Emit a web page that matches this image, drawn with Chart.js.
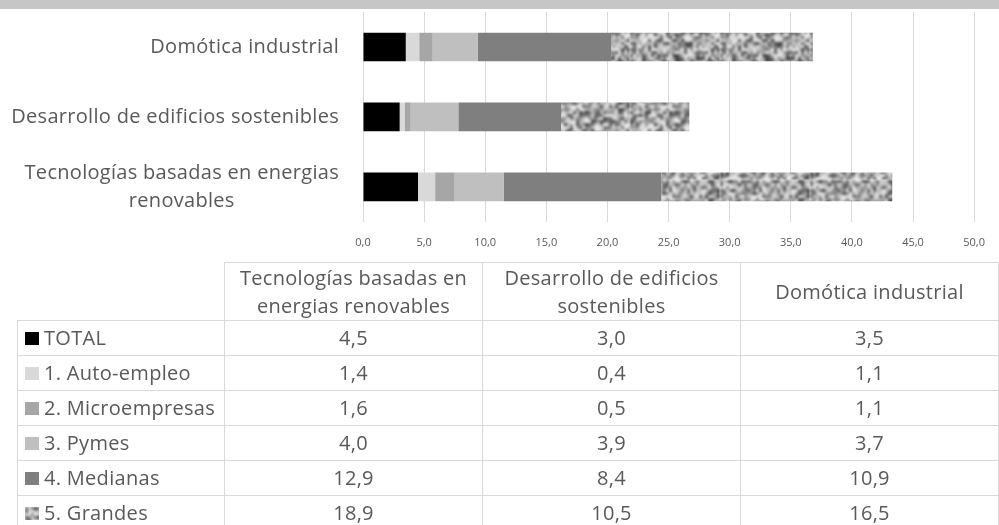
<!DOCTYPE html>
<html>
<head>
<meta charset="utf-8">
<script src="https://cdn.jsdelivr.net/npm/chart.js@4.4.1/dist/chart.umd.min.js"></script>
<style>
  body { margin: 0; background: #fff; width: 999px; height: 525px; overflow: hidden; position: relative; font-family: "Open Sans", sans-serif; }
  #strip { position: absolute; left: 0; top: 0; width: 999px; height: 9px; background: #c6c6c6; }
  #chart { position: absolute; left: 0; top: 0; }
  #tbl { position: absolute; left: 17px; top: 262px; border-collapse: collapse; table-layout: fixed; color: #595959; font-size: 20px; letter-spacing: 0.3px; }
  #tbl td { border: 1px solid #d9d9d9; text-align: center; height: 34px; padding: 0; line-height: 28px; }
  #tbl tr.head td { height: 57px; vertical-align: middle; }
  #tbl td.empty { border: none; }
  #tbl td.lab { text-align: left; padding-left: 7px; white-space: nowrap; }
  .sw { display: inline-block; width: 14px; height: 13px; margin-right: 5px; vertical-align: 0px; }
</style>
</head>
<body>
<div id="strip"></div>
<canvas id="chart" width="999" height="271"></canvas>
<table id="tbl"></table>
<script>
const categories = ['Tecnologías basadas en energias renovables', 'Desarrollo de edificios sostenibles', 'Domótica industrial'];
const axisLabels = [['Tecnologías basadas en energias', 'renovables'], ['Desarrollo de edificios sostenibles'], ['Domótica industrial']];
const seriesNames = ['TOTAL', '1. Auto-empleo', '2. Microempresas', '3. Pymes', '4. Medianas', '5. Grandes'];
const total = [4.5, 3.0, 3.5];
const autoempleo = [1.4, 0.4, 1.1];
const microempresas = [1.6, 0.5, 1.1];
const pymes = [4.0, 3.9, 3.7];
const medianas = [12.9, 8.4, 10.9];
const grandes = [18.9, 10.5, 16.5];
const xTicks = [0, 5, 10, 15, 20, 25, 30, 35, 40, 45, 50];

// grey speckle texture for "Grandes" (deterministic)
function makeNoise(size) {
  var small = document.createElement('canvas');
  var n = Math.round(size / 3);
  small.width = n; small.height = n;
  var sctx = small.getContext('2d');
  var img = sctx.createImageData(n, n);
  var s = 12345;
  for (var i = 0; i < n * n; i++) {
    s = (s * 1103515245 + 12345) % 2147483648;
    var r = s / 2147483648;
    var g = 240 - Math.floor(Math.pow(r, 1.4) * 185);
    img.data[i * 4] = g; img.data[i * 4 + 1] = g; img.data[i * 4 + 2] = g; img.data[i * 4 + 3] = 255;
  }
  sctx.putImageData(img, 0, 0);
  var big = document.createElement('canvas');
  big.width = size; big.height = size;
  var bctx = big.getContext('2d');
  bctx.imageSmoothingEnabled = true;
  bctx.filter = 'blur(0.9px)';
  // draw tiled 3x3 so the blur wraps at the edges
  for (var dx = -1; dx <= 1; dx++) {
    for (var dy = -1; dy <= 1; dy++) {
      bctx.drawImage(small, dx * size, dy * size, size, size);
    }
  }
  return big;
}
const noise = makeNoise(90);
const noisePattern = document.getElementById('chart').getContext('2d').createPattern(noise, 'repeat');

const colors = ['#000000', '#d9d9d9', '#a6a6a6', '#bfbfbf', '#7f7f7f', noisePattern];
const allData = [total, autoempleo, microempresas, pymes, medianas, grandes];

const fmt = v => v.toFixed(1).replace('.', ',');

const yLabelPlugin = {
  id: 'yLabels',
  afterDraw(chart) {
    const ctx = chart.ctx;
    const y = chart.scales.y;
    ctx.save();
    ctx.font = '20px "Open Sans"';
    ctx.letterSpacing = '0.3px';
    ctx.fillStyle = '#595959';
    ctx.textBaseline = 'middle';
    ctx.textAlign = 'center';
    axisLabels.forEach((lines, i) => {
      const yc = y.getPixelForValue(i);
      let w = 0;
      lines.forEach(l => { w = Math.max(w, ctx.measureText(l).width); });
      const cx = 339 - w / 2;
      const lh = 28;
      lines.forEach((l, k) => {
        ctx.fillText(l, cx, yc + (k - (lines.length - 1) / 2) * lh);
      });
    });
    ctx.restore();
  }
};

new Chart(document.getElementById('chart'), {
  type: 'bar',
  data: {
    labels: categories,
    datasets: seriesNames.map((name, i) => ({
      label: name,
      data: allData[i],
      backgroundColor: colors[i],
      borderWidth: 0,
      categoryPercentage: 1,
      barPercentage: 0.41
    }))
  },
  options: {
    indexAxis: 'y',
    responsive: false,
    animation: false,
    layout: { padding: { top: 12, right: 14, bottom: 8, left: 0 } },
    plugins: { legend: { display: false }, tooltip: { enabled: false } },
    scales: {
      x: {
        stacked: true,
        min: 0, max: 50,
        afterBuildTicks: s => { s.ticks = xTicks.map(v => ({ value: v })); },
        ticks: { color: '#595959', font: { family: 'Open Sans', size: 11 }, padding: 14, callback: v => fmt(v) },
        grid: { color: '#d9d9d9', drawTicks: false },
        border: { display: false }
      },
      y: {
        stacked: true,
        reverse: true,
        ticks: { display: false },
        grid: { display: false },
        border: { display: false },
        afterFit: s => { s.width = 363; }
      }
    }
  },
  plugins: [yLabelPlugin]
});

// data table under the chart
const swatch = document.createElement('canvas');
swatch.width = 14; swatch.height = 13;
swatch.getContext('2d').drawImage(noise, 0, 0, 14, 13, 0, 0, 14, 13);
const swatchBg = ['#000000', '#d9d9d9', '#a6a6a6', '#bfbfbf', '#7f7f7f', 'url(' + swatch.toDataURL() + ')'];

let html = '<colgroup><col style="width:207px"><col style="width:258px"><col style="width:258px"><col style="width:258px"></colgroup>';
html += '<tr class="head"><td class="empty"></td>' + categories.map(c => '<td>' + c + '</td>').join('') + '</tr>';
seriesNames.forEach((name, i) => {
  html += '<tr><td class="lab"><span class="sw" style="background:' + swatchBg[i] + '"></span>' + name + '</td>' +
    allData[i].map(v => '<td>' + fmt(v) + '</td>').join('') + '</tr>';
});
document.getElementById('tbl').innerHTML = html;
</script>
</body>
</html>
